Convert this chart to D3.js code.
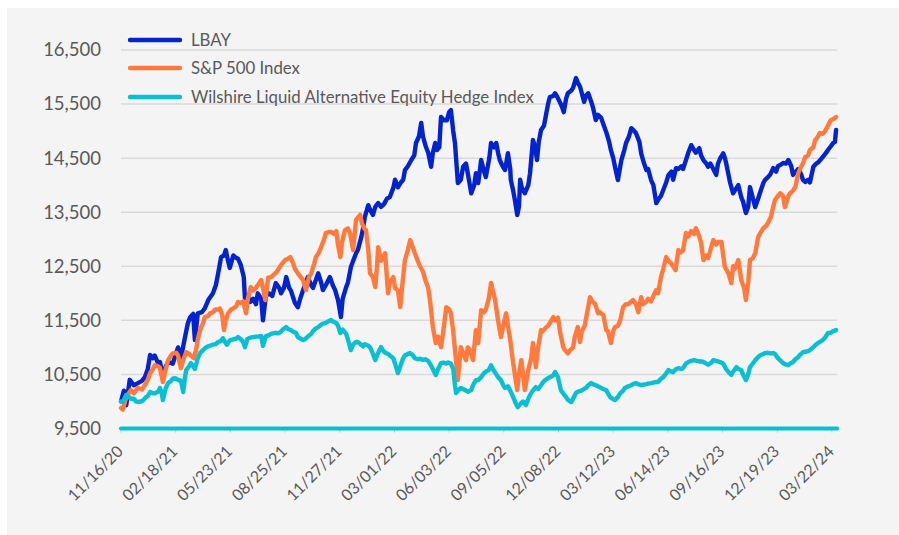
<!DOCTYPE html>
<html>
<head>
<meta charset="utf-8">
<script src="https://cdn.jsdelivr.net/npm/d3@7"></script>
<style>
  html, body { margin: 0; padding: 0; background: #ffffff; }
  svg { display: block; }
</style>
</head>
<body>
<div id="chart"></div>
<script>
// =============================================================================
// Data ([days since 11/16/20, value])
// =============================================================================
const START_DATE = '11/16/20';

const seriesNames = ['LBAY', 'S&P 500 Index', 'Wilshire Liquid Alternative Equity Hedge Index'];

const yTicks = [9500, 10500, 11500, 12500, 13500, 14500, 15500, 16500];

const xTickLabels = ['11/16/20', '02/18/21', '05/23/21', '08/25/21', '11/27/21', '03/01/22', '06/03/22',
    '09/05/22', '12/08/22', '03/12/23', '06/14/23', '09/16/23', '12/19/23', '03/22/24'];

const lbay = [
    [0,10000],[5,10200],[9,9930],[15,10400],[22,10300],[29,10340],[36,10380],[41,10450],[46,10600],[50,10860],
    [55,10800],[58,10850],[64,10700],[67,10730],[72,10450],[77,10650],[81,10730],[89,10700],[95,10900],[98,11000],
    [103,10800],[110,11190],[115,11450],[119,11560],[124,11620],[127,11135],[132,11630],[139,11650],[144,11720],[150,11875],
    [158,12000],[163,12150],[167,12370],[172,12670],[177,12700],[180,12800],[184,12600],[187,12470],[193,12700],[196,12670],
    [201,12640],[206,12520],[211,12300],[213,11910],[218,11950],[222,11840],[227,11900],[232,11800],[235,12000],[241,11900],
    [244,11500],[249,11950],[254,12000],[260,11950],[266,12190],[272,12100],[275,12000],[280,12100],[284,12300],[289,12100],
    [292,12050],[299,11820],[304,11745],[308,11900],[313,12060],[318,12200],[321,12300],[327,12150],[330,12100],[339,12370],
    [344,12200],[347,12060],[352,12150],[359,12300],[364,12150],[368,12060],[373,11875],[378,11560],[381,11900],[387,12115],
    [390,12200],[395,12480],[399,12600],[404,12740],[407,12800],[413,13040],[416,13200],[419,13410],[425,13630],[428,13550],
    [433,13450],[437,13600],[442,13670],[447,13600],[452,13650],[457,13750],[462,13780],[468,13950],[471,14100],[476,13960],
    [481,14050],[485,14100],[488,14280],[493,14350],[499,14465],[504,14550],[507,14780],[512,14900],[516,15150],[519,14900],
    [524,14710],[528,14600],[533,14340],[536,14600],[540,14780],[543,14650],[547,14700],[550,15260],[555,15200],[560,15200],
    [564,15350],[567,15390],[571,15000],[574,14780],[579,14040],[584,14100],[588,14340],[593,14400],[598,14100],[602,13850],
    [607,14000],[610,14220],[614,14040],[619,14465],[624,14250],[627,14150],[633,14500],[636,14780],[641,14700],[645,14780],
    [648,14600],[651,14465],[656,14350],[660,14280],[665,14590],[669,14300],[670,14095],[674,13900],[677,13725],[681,13450],
    [684,13600],[686,14100],[689,13950],[694,13850],[700,14000],[703,14220],[708,14835],[712,14700],[715,14465],[718,14800],
    [722,15020],[727,15100],[731,15330],[734,15500],[737,15630],[743,15650],[746,15700],[749,15650],[755,15520],[758,15450],
    [761,15350],[765,15600],[768,15700],[774,15750],[777,15800],[782,15980],[785,15900],[789,15820],[792,15700],[796,15540],
    [799,15650],[803,15700],[808,15550],[811,15445],[816,15205],[820,15300],[825,15250],[830,15100],[834,14980],[839,14800],
    [842,14650],[846,14500],[849,14340],[854,14095],[860,14465],[865,14650],[868,14780],[873,14900],[877,15055],[882,15000],
    [885,14965],[891,14800],[894,14590],[899,14400],[903,14280],[906,14300],[911,14095],[915,14000],[920,13670],[923,13725],
    [928,13800],[932,13910],[937,14050],[941,14190],[946,14250],[949,14100],[954,14315],[958,14300],[963,14350],[966,14300],
    [970,14430],[975,14600],[980,14740],[985,14650],[988,14600],[994,14685],[997,14550],[1001,14465],[1006,14400],[1009,14340],
    [1013,14400],[1018,14300],[1023,14190],[1026,14400],[1030,14500],[1035,14590],[1038,14500],[1040,14410],[1044,14200],[1047,14040],
    [1052,13850],[1055,13900],[1061,14000],[1066,13780],[1069,13700],[1074,13485],[1078,13600],[1081,13965],[1085,13800],[1090,13595],
    [1095,13750],[1098,13850],[1104,14040],[1107,14100],[1112,14150],[1116,14200],[1121,14315],[1126,14250],[1129,14350],[1134,14380],
    [1138,14410],[1143,14400],[1147,14465],[1152,14350],[1155,14190],[1160,14250],[1164,14300],[1169,14200],[1172,14100],[1176,14060],
    [1181,14100],[1184,14050],[1190,14340],[1195,14400],[1198,14420],[1203,14480],[1206,14520],[1212,14600],[1215,14650],[1220,14720],
    [1224,14780],[1227,14800],[1229,15020]
];

const sp500 = [
    [0,9880],[3,9850],[9,10080],[17,10210],[22,10150],[29,10250],[36,10220],[41,10300],[46,10400],[50,10520],
    [55,10600],[58,10670],[64,10650],[67,10620],[72,10360],[77,10600],[81,10765],[86,10850],[89,10890],[95,10900],
    [98,10850],[103,10615],[108,10800],[112,10910],[117,10880],[120,10850],[125,10800],[129,10950],[132,11150],[136,11320],
    [141,11450],[144,11560],[150,11580],[153,11630],[158,11650],[162,11700],[167,11700],[170,11720],[174,11600],[177,11320],
    [180,11500],[184,11630],[189,11700],[193,11720],[198,11760],[201,11840],[206,11820],[210,11850],[215,11630],[218,11900],
    [223,12115],[227,12050],[232,12100],[235,12150],[241,12245],[244,12100],[248,11875],[253,12290],[258,12300],[263,12350],
    [268,12400],[273,12490],[277,12550],[282,12615],[287,12640],[291,12670],[296,12550],[299,12450],[304,12370],[309,12300],
    [313,12245],[318,12060],[323,12300],[327,12370],[332,12550],[335,12670],[340,12750],[344,12855],[349,13000],[352,13115],
    [358,13135],[361,13135],[366,13100],[370,13150],[373,12900],[377,12670],[380,12950],[385,13170],[390,13200],[394,13100],
    [399,12800],[404,13355],[407,13400],[411,13450],[414,13300],[418,13200],[421,13170],[425,12800],[428,12370],[433,12300],
    [437,12115],[440,12500],[442,12855],[447,12600],[450,12650],[454,12740],[459,12000],[462,12200],[468,12300],[471,12100],
    [476,12050],[480,11745],[483,12100],[488,12615],[493,12800],[497,12985],[500,12900],[505,12740],[510,12600],[514,12500],
    [519,12400],[523,12245],[528,12100],[531,11875],[536,11375],[541,11080],[545,11200],[550,11005],[554,11300],[559,11745],
    [564,11700],[567,11630],[571,11300],[574,10950],[579,10395],[584,11005],[588,10900],[593,10765],[596,11000],[600,10950],
    [605,10765],[610,11320],[614,11080],[619,11690],[624,11650],[627,11700],[632,11900],[636,12190],[639,12050],[643,11875],
    [648,11500],[653,11190],[657,11400],[662,11630],[665,11400],[669,11135],[674,10710],[677,10500],[681,10210],[684,10500],
    [688,10765],[691,10500],[694,10210],[700,10580],[705,10800],[708,11080],[713,10635],[717,11000],[722,11320],[725,11300],
    [731,11375],[734,11400],[737,11450],[743,11560],[746,11500],[751,11550],[755,11265],[760,11005],[763,10950],[768,10890],
    [772,10950],[777,11000],[780,11200],[785,11375],[789,11100],[792,11300],[797,11400],[803,11750],[806,11930],[810,11850],
    [815,11800],[820,11630],[823,11650],[829,11600],[834,11320],[837,11300],[842,11080],[846,11300],[849,11375],[854,11400],
    [858,11500],[863,11745],[868,11800],[872,11800],[877,11850],[880,11875],[885,11800],[889,11650],[894,11930],[897,11800],
    [903,11850],[906,11900],[911,11850],[915,11950],[920,12060],[923,12000],[928,12300],[932,12450],[937,12670],[941,12600],
    [946,12550],[949,12500],[953,12430],[958,12800],[961,12750],[966,12800],[971,13115],[975,13050],[980,13150],[985,13100],
    [988,13205],[994,13050],[997,12930],[1001,12615],[1006,12700],[1009,12650],[1013,12800],[1018,12985],[1023,12900],[1026,12950],
    [1032,12950],[1035,12700],[1038,12485],[1044,12370],[1049,12190],[1052,12500],[1055,12450],[1061,12615],[1066,12245],[1071,12100],
    [1074,11875],[1078,12200],[1081,12615],[1086,12650],[1090,12740],[1095,13040],[1098,13100],[1104,13205],[1109,13250],[1112,13300],
    [1117,13410],[1121,13600],[1124,13725],[1129,13800],[1133,13850],[1138,13800],[1141,13595],[1147,13800],[1150,13850],[1155,13900],
    [1159,13965],[1164,14220],[1167,14300],[1172,14400],[1176,14520],[1181,14550],[1184,14650],[1190,14700],[1193,14835],[1198,14900],
    [1201,14965],[1206,14950],[1210,15000],[1215,15100],[1220,15205],[1224,15220],[1229,15260]
];

const wilshire = [
    [0,10000],[3,9990],[9,10120],[14,10080],[17,10050],[22,10050],[26,10000],[29,9990],[34,10000],[38,10020],
    [43,10080],[46,10100],[50,10175],[55,10150],[58,10150],[64,10180],[67,10250],[70,10150],[72,10025],[77,10250],
    [81,10340],[86,10380],[89,10420],[93,10430],[98,10400],[103,10380],[107,10175],[110,10450],[112,10580],[117,10650],
    [120,10710],[124,10650],[127,10600],[132,10800],[136,10895],[141,10950],[146,11000],[150,11020],[155,11040],[158,11050],
    [163,11060],[167,11100],[172,11120],[175,11170],[179,11100],[182,11050],[187,11130],[193,11150],[198,11160],[201,11190],
    [206,11150],[210,11100],[213,11005],[217,11150],[222,11180],[227,11190],[232,11200],[235,11200],[241,11210],[244,11030],
    [249,11210],[253,11220],[258,11250],[261,11260],[266,11270],[270,11260],[275,11290],[278,11330],[284,11375],[287,11340],
    [292,11320],[296,11290],[301,11265],[304,11190],[309,11160],[313,11135],[316,11150],[321,11200],[327,11250],[330,11300],
    [335,11350],[339,11375],[344,11420],[347,11440],[351,11450],[356,11480],[361,11505],[364,11480],[370,11450],[373,11400],
    [377,11265],[381,11330],[387,11250],[390,11150],[395,10950],[399,11050],[404,11100],[407,11100],[413,11050],[416,11020],
    [419,11060],[425,11030],[428,11005],[433,10880],[437,10765],[442,10900],[447,11005],[450,10950],[454,10900],[459,10880],
    [462,10850],[468,10800],[471,10700],[476,10525],[480,10650],[485,10800],[488,10850],[493,10880],[497,10895],[502,10850],
    [505,10800],[510,10780],[514,10790],[519,10770],[523,10780],[528,10750],[531,10700],[536,10600],[541,10490],[545,10600],
    [550,10710],[554,10720],[559,10700],[562,10720],[567,10700],[571,10600],[574,10300],[576,10155],[579,10200],[584,10250],
    [588,10230],[593,10200],[596,10180],[602,10210],[605,10300],[610,10395],[614,10395],[619,10450],[624,10525],[627,10550],
    [632,10580],[636,10670],[639,10600],[645,10500],[648,10450],[653,10395],[657,10300],[660,10250],[665,10280],[669,10200],
    [674,10080],[679,9950],[682,9895],[686,9950],[691,10000],[696,9935],[700,10050],[705,10155],[708,10200],[713,10265],
    [717,10230],[722,10300],[725,10350],[729,10395],[734,10430],[737,10450],[743,10480],[746,10545],[751,10450],[756,10210],
    [760,10150],[765,10080],[768,10030],[774,9990],[777,10050],[782,10155],[785,10180],[791,10200],[794,10220],[799,10250],
    [803,10300],[808,10340],[811,10320],[816,10300],[820,10280],[825,10250],[829,10230],[834,10210],[837,10150],[841,10080],
    [846,10040],[849,10025],[854,10080],[858,10150],[863,10200],[866,10250],[872,10280],[877,10300],[880,10320],[885,10340],
    [889,10320],[894,10300],[897,10310],[903,10320],[906,10330],[911,10340],[915,10350],[920,10360],[923,10360],[928,10420],
    [932,10450],[937,10520],[941,10580],[946,10550],[949,10540],[954,10600],[958,10615],[963,10600],[966,10620],[971,10700],
    [975,10730],[980,10750],[985,10765],[990,10750],[994,10740],[999,10740],[1001,10730],[1006,10700],[1009,10680],[1015,10720],
    [1018,10765],[1023,10750],[1026,10740],[1032,10720],[1035,10700],[1040,10600],[1044,10545],[1049,10490],[1052,10550],[1058,10635],
    [1061,10600],[1066,10580],[1069,10500],[1074,10395],[1078,10500],[1081,10635],[1086,10700],[1090,10765],[1095,10820],[1098,10850],
    [1104,10880],[1107,10895],[1112,10900],[1116,10890],[1121,10895],[1124,10880],[1129,10800],[1133,10760],[1138,10710],[1141,10690],
    [1147,10670],[1150,10700],[1155,10730],[1159,10780],[1164,10820],[1167,10860],[1172,10910],[1176,10920],[1181,10930],[1184,10950],
    [1190,11005],[1193,11040],[1198,11080],[1201,11100],[1206,11135],[1210,11180],[1215,11265],[1220,11270],[1224,11300],[1229,11320]
];

// =============================================================================
// Visual configuration
// =============================================================================
const WIDTH = 899;
const HEIGHT = 535;
const PANEL_FILL = '#f4f4f4';
const GRID_COLOR = '#d9d9d9';
const TEXT_COLOR = '#595959';
const FONT = 'Lato, "Open Sans", sans-serif';
const COLORS = ['#0323cc', '#ff7a3c', '#0bbfd3'];
const LINE_WIDTH = 4.4;

const svg = d3.select('#chart')
    .append('svg')
    .attr('width', WIDTH)
    .attr('height', HEIGHT);

// Grey chart panel
svg.append('rect')
    .attr('x', 7)
    .attr('y', 8)
    .attr('width', WIDTH - 7)
    .attr('height', HEIGHT - 8)
    .attr('fill', PANEL_FILL);

const parseDate = d3.utcParse('%m/%d/%y');
const start = parseDate(START_DATE);
const tickDates = xTickLabels.map(parseDate);
const toDate = d => d3.utcDay.offset(start, d);

// Scales: the last tick (03/22/24) sits at x = 832
const xScale = d3.scaleUtc()
    .domain([tickDates[0], tickDates[tickDates.length - 1]])
    .range([121, 832]);

const yScale = d3.scaleLinear()
    .domain([yTicks[0], yTicks[yTicks.length - 1]])
    .range([428.5, 50]);

const lastDate = toDate(lbay[lbay.length - 1][0]);
const xEnd = xScale(lastDate) + 1;

// Gridlines
svg.append('g')
    .selectAll('line')
    .data(yTicks.slice(1))
    .enter()
    .append('line')
    .attr('x1', xScale(tickDates[0]))
    .attr('x2', xEnd)
    .attr('y1', d => yScale(d))
    .attr('y2', d => yScale(d))
    .attr('stroke', GRID_COLOR)
    .attr('stroke-width', 1.5);

// Y axis labels
const yAxis = d3.axisLeft(yScale)
    .tickValues(yTicks)
    .tickFormat(d3.format(','))
    .tickSize(0)
    .tickPadding(0);

const yAxisG = svg.append('g')
    .attr('transform', 'translate(101,0)')
    .call(yAxis);
yAxisG.select('.domain').remove();
yAxisG.selectAll('text')
    .attr('fill', TEXT_COLOR)
    .attr('font-family', FONT)
    .attr('font-size', '18.5px');

// Series lines
const line = d3.line()
    .x(d => xScale(toDate(d[0])))
    .y(d => yScale(d[1]))
    .curve(d3.curveLinear);

const allSeries = [lbay, sp500, wilshire];

svg.append('g')
    .selectAll('path')
    .data(allSeries)
    .enter()
    .append('path')
    .attr('d', d => line(d))
    .attr('fill', 'none')
    .attr('stroke', (d, i) => COLORS[i])
    .attr('stroke-width', LINE_WIDTH)
    .attr('stroke-linejoin', 'round')
    .attr('stroke-linecap', 'round');

// X axis (teal base line at 9,500 with small ticks)
const xAxisY = yScale(yTicks[0]);

svg.append('g')
    .selectAll('line')
    .data(tickDates)
    .enter()
    .append('line')
    .attr('x1', d => xScale(d))
    .attr('x2', d => xScale(d))
    .attr('y1', xAxisY)
    .attr('y2', xAxisY + 4)
    .attr('stroke', '#8fd9e3')
    .attr('stroke-width', 1);

svg.append('line')
    .attr('x1', xScale(tickDates[0]))
    .attr('x2', xEnd)
    .attr('y1', xAxisY)
    .attr('y2', xAxisY)
    .attr('stroke', COLORS[2])
    .attr('stroke-width', 4.2)
    .attr('stroke-linecap', 'round');

svg.append('g')
    .selectAll('text')
    .data(tickDates)
    .enter()
    .append('text')
    .attr('transform', d => `translate(${xScale(d) + 3},${xAxisY + 24}) rotate(-45)`)
    .attr('text-anchor', 'end')
    .attr('fill', TEXT_COLOR)
    .attr('font-family', FONT)
    .attr('font-size', '16px')
    .text((d, i) => xTickLabels[i]);

// Legend
const legendY = [40, 68, 97];
const legend = svg.append('g');

legend.selectAll('line')
    .data(seriesNames)
    .enter()
    .append('line')
    .attr('x1', 130)
    .attr('x2', 180)
    .attr('y1', (d, i) => legendY[i])
    .attr('y2', (d, i) => legendY[i])
    .attr('stroke', (d, i) => COLORS[i])
    .attr('stroke-width', LINE_WIDTH)
    .attr('stroke-linecap', 'round');

legend.selectAll('text')
    .data(seriesNames)
    .enter()
    .append('text')
    .attr('x', 191)
    .attr('y', (d, i) => legendY[i])
    .attr('dy', '0.35em')
    .attr('fill', TEXT_COLOR)
    .attr('font-family', FONT)
    .attr('font-size', '16.8px')
    .text(d => d);
</script>
</body>
</html>
